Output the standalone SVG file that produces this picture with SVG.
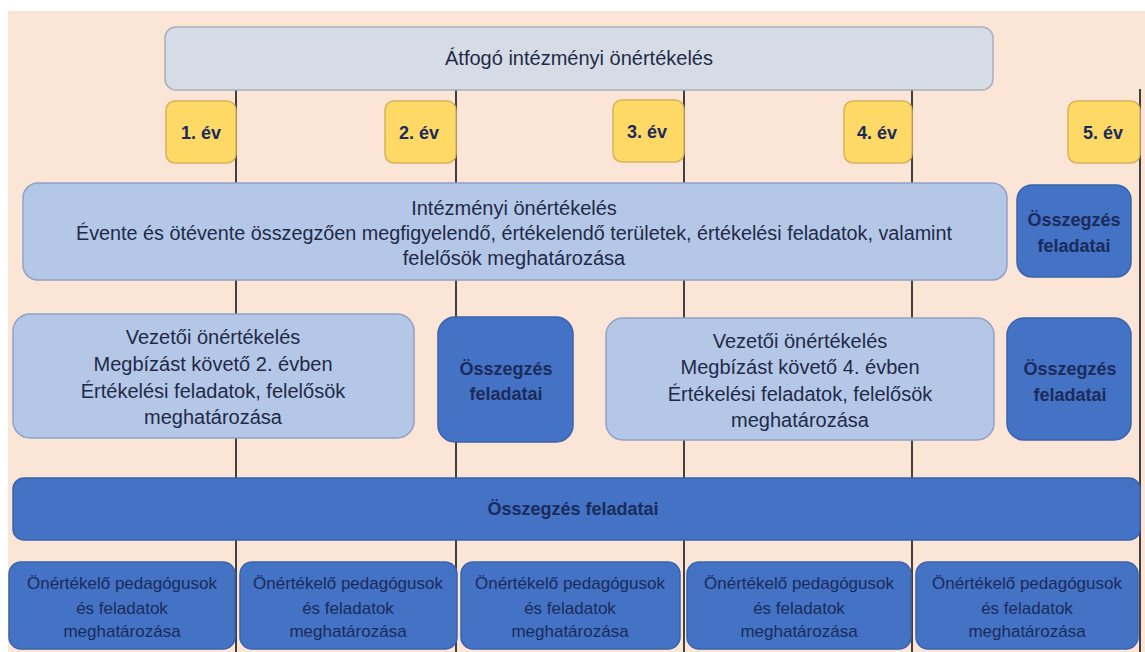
<svg xmlns="http://www.w3.org/2000/svg" width="1145" height="652" viewBox="0 0 1145 652">
<style>
.t{font-family:"Liberation Sans",Arial,sans-serif;fill:#1f2a48;text-anchor:middle}
.m{font-size:20px}
.b{font-size:18px;font-weight:bold;fill:#1a2b5c}
.s{font-size:17px;fill:#1a2b5c}
.grey{fill:#d6dce5;stroke:#a7afbf;stroke-width:1.5}
.lb{fill:#b4c7e7;stroke:#8fa3c6;stroke-width:1.5}
.db{fill:#4472c4;stroke:#3b63ab;stroke-width:1.5}
.yel{fill:#ffd966;stroke:#d5b45c;stroke-width:1.5}
.ln{stroke:#404040;stroke-width:2}
</style>
<rect width="1145" height="652" fill="#ffffff"/>
<rect x="8" y="11" width="1137" height="641" fill="#fbe5d6"/>
<g id="connectors">
<line class="ln" x1="236" y1="89" x2="236" y2="652"/>
<line class="ln" x1="456" y1="89" x2="456" y2="652"/>
<line class="ln" x1="684" y1="89" x2="684" y2="652"/>
<line class="ln" x1="912" y1="89" x2="912" y2="652"/>
<line class="ln" x1="1140" y1="89" x2="1140" y2="652"/>
</g>
<g id="atfogo"><rect class="grey" x="165" y="27" width="828" height="63" rx="11"/><text class="t m" x="579" y="65">Átfogó intézményi önértékelés</text></g>
<g id="ev1"><rect class="yel" x="166" y="101" width="70" height="62" rx="9"/><text class="t b" x="201" y="139">1. év</text></g>
<g id="ev2"><rect class="yel" x="385" y="101" width="71" height="62" rx="9"/><text class="t b" x="419" y="139">2. év</text></g>
<g id="ev3"><rect class="yel" x="613" y="100" width="71" height="62" rx="9"/><text class="t b" x="647" y="138">3. év</text></g>
<g id="ev4"><rect class="yel" x="844" y="101" width="68" height="62" rx="9"/><text class="t b" x="877" y="139">4. év</text></g>
<g id="ev5"><rect class="yel" x="1068" y="101" width="72" height="62" rx="9"/><text class="t b" x="1103" y="139">5. év</text></g>
<g id="intezmenyi"><rect class="lb" x="23" y="183" width="984" height="97" rx="15"/>
<text class="t m" x="514" y="215">Intézményi önértékelés</text>
<text class="t m" x="514" y="240" textLength="876" lengthAdjust="spacingAndGlyphs">Évente és ötévente összegzően  megfigyelendő, értékelendő területek, értékelési feladatok, valamint</text>
<text class="t m" x="514" y="265">felelősök meghatározása</text></g>
<g id="osszegzes1"><rect class="db" x="1017" y="185" width="114" height="92" rx="15"/><text class="t b" x="1074" y="226">Összegzés</text><text class="t b" x="1074" y="252">feladatai</text></g>
<g id="vezetoi1"><rect class="lb" x="13" y="314" width="401" height="124" rx="17"/>
<text class="t m" x="213" y="344">Vezetői önértékelés</text>
<text class="t m" x="213" y="371">Megbízást követő 2. évben</text>
<text class="t m" x="213" y="398">Értékelési feladatok, felelősök</text>
<text class="t m" x="213" y="424">meghatározása</text></g>
<g id="osszegzes2"><rect class="db" x="438" y="317" width="135" height="125" rx="17"/><text class="t b" x="506" y="375">Összegzés</text><text class="t b" x="506" y="400">feladatai</text></g>
<g id="vezetoi2"><rect class="lb" x="606" y="318" width="388" height="122" rx="17"/>
<text class="t m" x="800" y="348">Vezetői önértékelés</text>
<text class="t m" x="800" y="374">Megbízást követő 4. évben</text>
<text class="t m" x="800" y="401">Értékelési feladatok, felelősök</text>
<text class="t m" x="800" y="427">meghatározása</text></g>
<g id="osszegzes3"><rect class="db" x="1007" y="318" width="124" height="122" rx="17"/><text class="t b" x="1070" y="375">Összegzés</text><text class="t b" x="1070" y="401">feladatai</text></g>
<g id="osszegzes-bar"><rect class="db" x="13" y="478" width="1127" height="62" rx="11"/><text class="t b" x="573" y="515">Összegzés feladatai</text></g>
<g id="ped1"><rect class="db" x="9" y="562" width="226" height="87" rx="12"/><text class="t s" x="122" y="589">Önértékelő pedagógusok</text><text class="t s" x="122" y="614">és feladatok</text><text class="t s" x="122" y="637">meghatározása</text></g>
<g id="ped2"><rect class="db" x="240" y="562" width="217" height="87" rx="12"/><text class="t s" x="348" y="589">Önértékelő pedagógusok</text><text class="t s" x="348" y="614">és feladatok</text><text class="t s" x="348" y="637">meghatározása</text></g>
<g id="ped3"><rect class="db" x="461" y="562" width="219" height="87" rx="12"/><text class="t s" x="570" y="589">Önértékelő pedagógusok</text><text class="t s" x="570" y="614">és feladatok</text><text class="t s" x="570" y="637">meghatározása</text></g>
<g id="ped4"><rect class="db" x="687" y="562" width="224" height="87" rx="12"/><text class="t s" x="799" y="589">Önértékelő pedagógusok</text><text class="t s" x="799" y="614">és feladatok</text><text class="t s" x="799" y="637">meghatározása</text></g>
<g id="ped5"><rect class="db" x="916" y="562" width="222" height="87" rx="12"/><text class="t s" x="1027" y="589">Önértékelő pedagógusok</text><text class="t s" x="1027" y="614">és feladatok</text><text class="t s" x="1027" y="637">meghatározása</text></g>
</svg>
